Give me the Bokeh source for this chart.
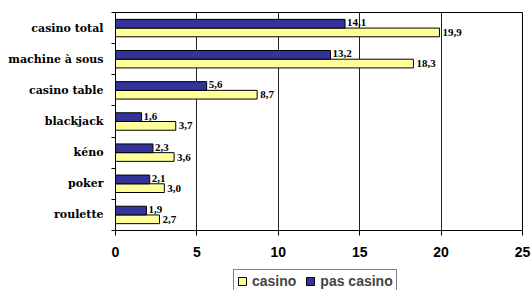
from bokeh.plotting import figure
from bokeh.layouts import column
from bokeh.models import ColumnDataSource, FixedTicker, Legend, LegendItem, LabelSet, Range1d
from bokeh.embed import file_html
from bokeh.resources import INLINE

# ---- data (top to bottom as in the chart) ----
categories = ["casino total", "machine à sous", "casino table", "blackjack", "kéno", "poker", "roulette"]
casino = [19.9, 18.3, 8.7, 3.7, 3.6, 3.0, 2.7]
pas_casino = [14.1, 13.2, 5.6, 1.6, 2.3, 2.1, 1.9]
x_ticks = [0, 5, 10, 15, 20, 25]
series_names = ["casino", "pas casino"]
colors = {"casino": "#FFFF99", "pas casino": "#333399"}

n = len(categories)
centers = [n - 1 - i + 0.5 for i in range(n)]
off = 0.14
bh = 0.28

def fmt(v):
    return f"{v:.1f}".replace(".", ",")

src_c = ColumnDataSource(dict(y=[c - off for c in centers], v=casino, lab=[fmt(v) for v in casino]))
src_p = ColumnDataSource(dict(y=[c + off for c in centers], v=pas_casino, lab=[fmt(v) for v in pas_casino]))

p = figure(width=531, height=262, output_backend="svg", toolbar_location=None,
           x_range=(0, 25), y_range=(0, n),
           min_border_left=115, min_border_top=12, min_border_bottom=32, min_border_right=9)

p.hbar(y="y", right="v", left=0, height=bh, source=src_c,
       fill_color=colors["casino"], line_color="black", line_width=1)
p.hbar(y="y", right="v", left=0, height=bh, source=src_p,
       fill_color=colors["pas casino"], line_color="black", line_width=1)

p.add_layout(LabelSet(x="v", y="y", text="lab", source=src_c, x_offset=3,
                      text_align="left", text_baseline="middle",
                      text_font="Liberation Sans", text_font_style="bold",
                      text_font_size="11px", text_color="black"))
p.add_layout(LabelSet(x="v", y="y", text="lab", source=src_p, x_offset=2, y_offset=1,
                      text_align="left", text_baseline="middle",
                      text_font="Liberation Sans", text_font_style="bold",
                      text_font_size="11px", text_color="black"))

# x axis
p.xaxis.ticker = FixedTicker(ticks=x_ticks)
p.xaxis.major_label_text_font = "Liberation Sans"
p.xaxis.major_label_text_font_style = "bold"
p.xaxis.major_label_text_font_size = "14px"
p.xaxis.major_label_text_color = "black"
p.xaxis.major_tick_in = 0
p.xaxis.major_tick_out = 5
p.xaxis.minor_tick_line_color = None
p.xaxis.major_label_standoff = 11
p.xaxis.axis_line_color = "black"
p.xaxis.major_tick_line_color = "black"

# y axis: category labels at band centres, small ticks at band boundaries
p.yaxis.ticker = FixedTicker(ticks=centers, minor_ticks=list(range(n + 1)))
p.yaxis.major_label_overrides = {c: cat for c, cat in zip(centers, categories)}
p.yaxis.major_label_text_font = "DejaVu Serif"
p.yaxis.major_label_text_font_style = "bold"
p.yaxis.major_label_text_font_size = "11px"
p.yaxis.major_label_text_color = "black"
p.yaxis.major_tick_line_color = None
p.yaxis.minor_tick_in = 0
p.yaxis.minor_tick_out = 4
p.yaxis.minor_tick_line_color = "black"
p.yaxis.major_label_standoff = 6
p.yaxis.axis_line_color = "black"

p.ygrid.grid_line_color = None
p.xgrid.grid_line_color = "#222222"
p.xgrid.grid_line_width = 1
p.outline_line_color = "black"
p.outline_line_width = 1

# legend strip below the chart (its bars lie outside its view, behind the legend box)
lg = figure(width=500, height=28, output_backend="svg", toolbar_location=None,
            x_axis_location=None, y_axis_location=None,
            x_range=Range1d(-25, 35), y_range=Range1d(100, 101),
            min_border=0, outline_line_color=None)
lg.xgrid.grid_line_color = None
lg.ygrid.grid_line_color = None
lr_c = lg.hbar(y="y", right="v", left=0, height=bh, source=src_c,
               fill_color=colors["casino"], line_color="black", line_width=1)
lr_p = lg.hbar(y="y", right="v", left=0, height=bh, source=src_p,
               fill_color=colors["pas casino"], line_color="black", line_width=1)
legend = Legend(items=[LegendItem(label=series_names[0], renderers=[lr_c]),
                       LegendItem(label=series_names[1], renderers=[lr_p])],
                orientation="horizontal", location=(118, -3),
                border_line_color="black", border_line_width=1,
                background_fill_color="white", background_fill_alpha=1,
                padding=3, spacing=9, margin=0,
                glyph_width=10, glyph_height=10, label_standoff=5, label_height=16,
                label_text_font="Liberation Sans", label_text_font_style="bold",
                label_text_font_size="14px")
lg.add_layout(legend, "center")

open("out.html", "w").write(file_html(column(p, lg, spacing=0), INLINE))
